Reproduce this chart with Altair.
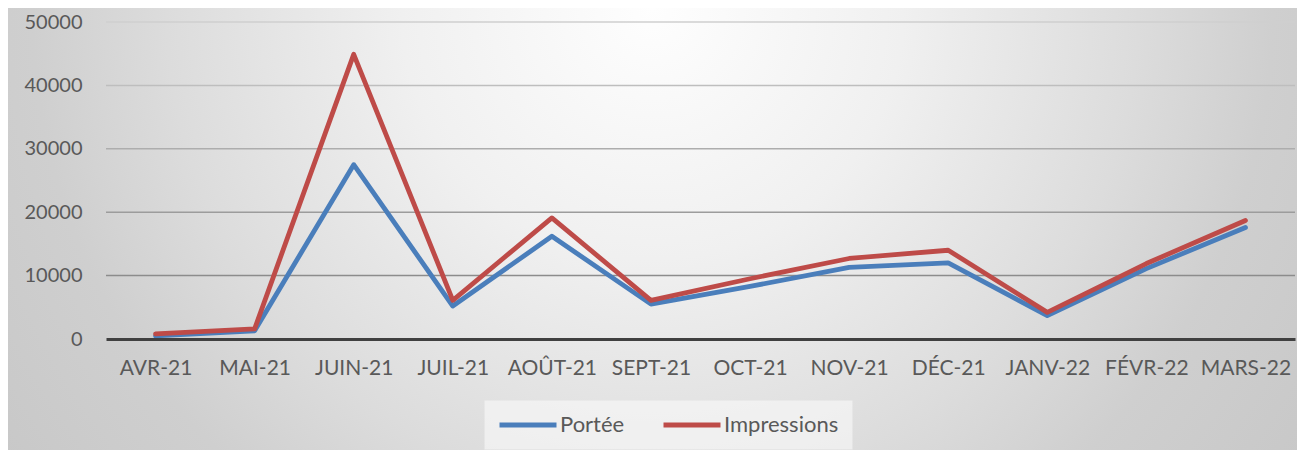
import altair as alt
import pandas as pd

months = ["AVR-21", "MAI-21", "JUIN-21", "JUIL-21", "AOÛT-21", "SEPT-21",
          "OCT-21", "NOV-21", "DÉC-21", "JANV-22", "FÉVR-22", "MARS-22"]
portee = [500, 1300, 27500, 5200, 16200, 5500, 8300, 11300, 12000, 3700, 11100, 17600]
impressions = [800, 1600, 44900, 6100, 19100, 6100, 9500, 12700, 14000, 4200, 11900, 18700]
series = ["Portée", "Impressions"]
colors = ["#4a7ebb", "#be4b48"]
grid_values = [10000, 20000, 30000, 40000, 50000]
y_ticks = [0, 10000, 20000, 30000, 40000, 50000]

W, H = 1189, 317
PAD = {"left": 98, "top": 14, "right": 2, "bottom": 111}
FONT = "Lato"

df_p = pd.DataFrame({"mois": months, "valeur": portee, "serie": series[0]})
df_i = pd.DataFrame({"mois": months, "valeur": impressions, "serie": series[1]})
df_grid = pd.DataFrame({"v": grid_values})

x_enc = alt.X("mois:N", sort=months, scale=alt.Scale(domain=months),
              axis=alt.Axis(title=None, labelAngle=0, labelFont=FONT, labelFontSize=21,
                            labelColor="#595959", labelPadding=18, ticks=False,
                            domainColor="#404040", domainWidth=3, grid=False, zindex=1))
y_enc = alt.Y("valeur:Q", scale=alt.Scale(domain=[0, 50000], nice=False),
              axis=alt.Axis(title=None, values=y_ticks, format="d", labelFont=FONT,
                            labelFontSize=20, labelColor="#595959", labelPadding=24,
                            ticks=False, domain=False, grid=False, zindex=1))
color_enc = alt.Color("serie:N", scale=alt.Scale(domain=series, range=colors),
                      legend=alt.Legend(title=None, orient="none", legendX=378, legendY=378,
                                        direction="horizontal",
                                        symbolType="M-1,0H5", symbolSize=361,
                                        symbolStrokeWidth=5,
                                        labelFont=FONT, labelFontSize=22, labelColor="#595959",
                                        labelOffset=39, columnPadding=28, padding=13,
                                        fillColor="rgba(250,250,250,0.6)",
                                        strokeColor="rgba(0,0,0,0)"))

bg = alt.Chart(pd.DataFrame({"a": [0]})).mark_rect(
    color={"gradient": "radial", "x1": 0.5, "y1": 0.0, "r1": 0, "x2": 0.5, "y2": 0.0, "r2": 0.65,
           "stops": [{"offset": 0.0, "color": "#fefefe"},
                     {"offset": 0.3, "color": "#f0f0f0"},
                     {"offset": 0.58, "color": "#dcdcdc"},
                     {"offset": 0.74, "color": "#cfcfcf"},
                     {"offset": 1.0, "color": "#c6c6c6"}]},
    clip=False
).encode(x=alt.value(-PAD["left"]), x2=alt.value(W + PAD["right"]),
         y=alt.value(-PAD["top"]), y2=alt.value(-PAD["top"] + W + PAD["left"] + PAD["right"]))

grid = alt.Chart(df_grid).mark_rule(strokeWidth=1.5).encode(
    y=alt.Y("v:Q", scale=alt.Scale(domain=[0, 50000], nice=False)),
    stroke=alt.Stroke("v:Q", scale=alt.Scale(domain=[10000, 50000], range=["#8c8c8c", "#cfcfcf"]),
                      legend=None),
)

line_p = alt.Chart(df_p).mark_line(strokeWidth=4.8, strokeCap="round", strokeJoin="round").encode(
    x=x_enc, y=y_enc, color=color_enc)
line_i = alt.Chart(df_i).mark_line(strokeWidth=4.8, strokeCap="round", strokeJoin="round").encode(
    x=x_enc, y=y_enc, color=color_enc)

chart = alt.layer(bg, grid, line_p, line_i).properties(
    width=W, height=H,
    autosize=alt.AutoSizeParams(type="none"),
    padding=PAD,
).configure_view(stroke=None).configure(background="#ffffff")

chart.save("out.html", embed_options={"renderer": "svg", "actions": False})
